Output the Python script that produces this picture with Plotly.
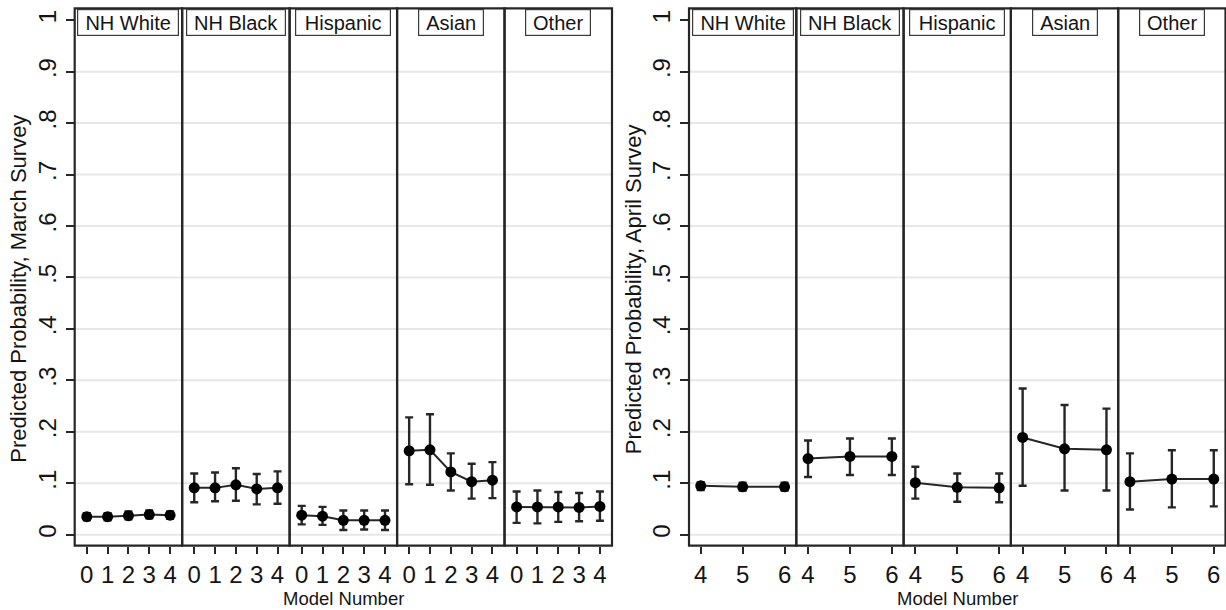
import plotly.graph_objects as go

# ---------------- data ----------------
races = ["NH White", "NH Black", "Hispanic", "Asian", "Other"]
march_models = [0, 1, 2, 3, 4]
april_models = [4, 5, 6]

march_est = [
    [0.035, 0.035, 0.037, 0.039, 0.038],
    [0.091, 0.091, 0.097, 0.089, 0.091],
    [0.038, 0.036, 0.028, 0.028, 0.028],
    [0.163, 0.165, 0.122, 0.103, 0.106],
    [0.054, 0.054, 0.054, 0.053, 0.055],
]
march_lo = [
    [0.028, 0.028, 0.030, 0.032, 0.031],
    [0.063, 0.065, 0.066, 0.059, 0.060],
    [0.020, 0.019, 0.009, 0.010, 0.009],
    [0.098, 0.097, 0.086, 0.070, 0.071],
    [0.023, 0.022, 0.025, 0.026, 0.027],
]
march_hi = [
    [0.042, 0.042, 0.045, 0.047, 0.045],
    [0.119, 0.121, 0.129, 0.118, 0.123],
    [0.056, 0.054, 0.047, 0.047, 0.047],
    [0.228, 0.234, 0.158, 0.138, 0.141],
    [0.084, 0.086, 0.083, 0.081, 0.084],
]

april_est = [
    [0.095, 0.093, 0.093],
    [0.148, 0.152, 0.152],
    [0.101, 0.092, 0.091],
    [0.189, 0.167, 0.165],
    [0.103, 0.108, 0.108],
]
april_lo = [
    [0.087, 0.086, 0.086],
    [0.112, 0.116, 0.116],
    [0.070, 0.064, 0.063],
    [0.095, 0.086, 0.086],
    [0.049, 0.053, 0.055],
]
april_hi = [
    [0.102, 0.101, 0.101],
    [0.183, 0.187, 0.187],
    [0.132, 0.119, 0.119],
    [0.284, 0.252, 0.245],
    [0.158, 0.164, 0.164],
]

y_tickvals = [0, 0.1, 0.2, 0.3, 0.4, 0.5, 0.6, 0.7, 0.8, 0.9, 1]
y_ticktext = ["0", ".1", ".2", ".3", ".4", ".5", ".6", ".7", ".8", ".9", "1"]
y_titles = ["Predicted Probability, March Survey", "Predicted Probability, April Survey"]
x_title = "Model Number"

# ---------------- style / layout ----------------
W, H = 1226, 610
FONT = "Liberation Sans, Arial, Helvetica, sans-serif"
INK = "#141414"
LINE = "#262626"
GRID = "#e6e8e8"
box_w = {"NH White": 98, "NH Black": 96, "Hispanic": 92, "Asian": 62, "Other": 62}

panels = [
    dict(left=74.7, right=612.0, models=march_models, est=march_est, lo=march_lo, hi=march_hi,
         xr=[-0.58, 4.58], ylab_x=18.5),
    dict(left=689.0, right=1225.5, models=april_models, est=april_est, lo=april_lo, hi=april_hi,
         xr=[3.72, 6.28], ylab_x=633.0),
]
top_px, bot_px = 8.3, 545.7
yd = [1 - bot_px / H, 1 - top_px / H]
yrange = [-0.0214, 1.0231]

fig = go.Figure()
layout = dict(
    width=W, height=H, margin=dict(l=0, r=0, t=0, b=0),
    paper_bgcolor="white", plot_bgcolor="white", showlegend=False,
    font=dict(family=FONT, color=INK),
)
shapes, annotations = [], []

ax = 0
for p_i, p in enumerate(panels):
    yname = "y" if p_i == 0 else "y2"
    ykey = "yaxis" if p_i == 0 else "yaxis2"
    fw = (p["right"] - p["left"]) / len(races)
    first_x = None
    for r_i, race in enumerate(races):
        ax += 1
        xname = "x" if ax == 1 else f"x{ax}"
        xkey = "xaxis" if ax == 1 else f"xaxis{ax}"
        if first_x is None:
            first_x = xname
        x0 = (p["left"] + r_i * fw) / W
        x1 = (p["left"] + (r_i + 1) * fw) / W
        layout[xkey] = dict(
            domain=[x0, x1], range=p["xr"], anchor=yname,
            tickmode="array", tickvals=p["models"], ticktext=[str(m) for m in p["models"]],
            ticks="outside", ticklen=7, tickwidth=1.6, tickcolor=LINE,
            showgrid=False, zeroline=False, showline=False,
            tickfont=dict(size=24, family=FONT, color=INK),
        )
        est = p["est"][r_i]
        lo = p["lo"][r_i]
        hi = p["hi"][r_i]
        fig.add_trace(go.Scatter(
            x=p["models"], y=est, xaxis=xname, yaxis=yname, mode="lines+markers",
            line=dict(color=LINE, width=2),
            marker=dict(color="black", size=11),
            error_y=dict(type="data", symmetric=False,
                         array=[h - e for h, e in zip(hi, est)],
                         arrayminus=[e - l for e, l in zip(est, lo)],
                         color=LINE, thickness=2.4, width=4),
            hoverinfo="skip",
        ))
        # facet frame
        shapes.append(dict(type="rect", xref=f"{xname} domain", yref=f"{yname} domain",
                           x0=0, x1=1, y0=0, y1=1, line=dict(color=LINE, width=2.2), layer="above"))
        # facet label box
        annotations.append(dict(
            text=race, xref="paper", yref="paper", x=(x0 + x1) / 2, y=yd[1],
            xanchor="center", yanchor="top", yshift=-1, showarrow=False,
            font=dict(size=20, family=FONT, color=INK),
            bordercolor="#3a3a3a", borderwidth=1.2, borderpad=1, bgcolor="white",
            width=box_w[race], height=23,
        ))
    # gridlines (no line at the top tick)
    for v in y_tickvals[:-1]:
        shapes.append(dict(type="line", xref="paper", yref=yname,
                           x0=p["left"] / W, x1=p["right"] / W, y0=v, y1=v,
                           line=dict(color=GRID, width=2), layer="below"))
    layout[ykey] = dict(
        domain=yd, range=yrange, anchor=first_x,
        tickmode="array", tickvals=y_tickvals, ticktext=y_ticktext, tickangle=-90,
        ticks="outside", ticklen=8, tickwidth=1.6, tickcolor=LINE,
        showgrid=False, zeroline=False, showline=False,
        tickfont=dict(size=24, family=FONT, color=INK),
    )
    annotations.append(dict(
        text=y_titles[p_i], xref="paper", yref="paper",
        x=p["ylab_x"] / W, y=(yd[0] + yd[1]) / 2 - 0.02, textangle=-90,
        xanchor="center", yanchor="middle", showarrow=False,
        font=dict(size=22, family=FONT, color=INK),
    ))
    annotations.append(dict(
        text=x_title, xref="paper", yref="paper",
        x=(p["left"] + p["right"]) / 2 / W, y=1 - 598 / H,
        xanchor="center", yanchor="middle", showarrow=False,
        font=dict(size=18.5, family=FONT, color=INK),
    ))

layout["shapes"] = shapes
layout["annotations"] = annotations
fig.update_layout(**layout)

fig.write_html("out.html", include_plotlyjs=True, config={"displayModeBar": False},
               post_script="document.body.style.margin='0';document.body.style.overflow='hidden';")
